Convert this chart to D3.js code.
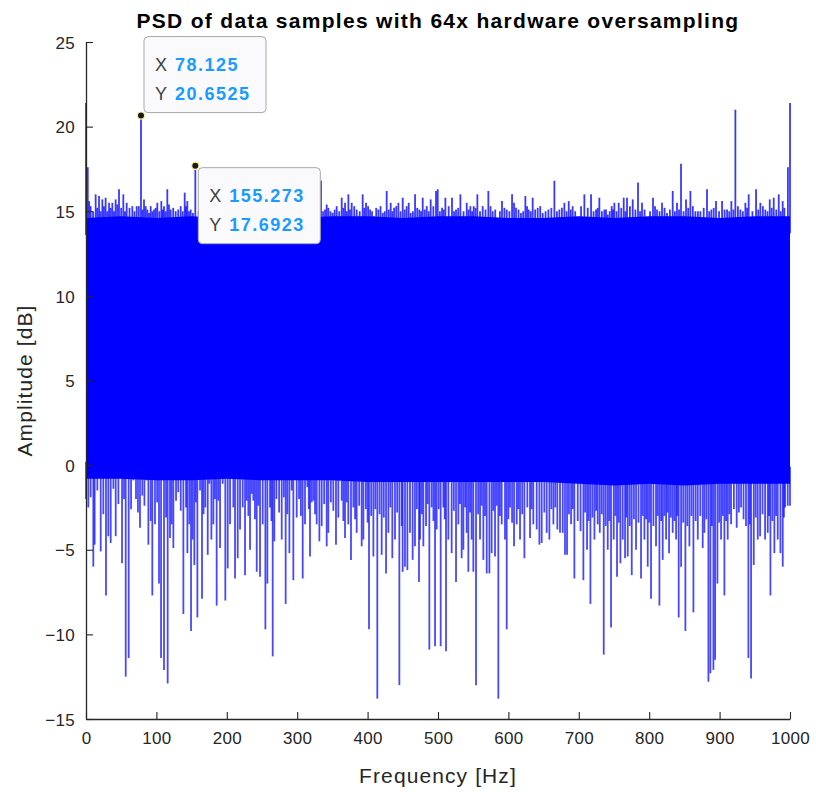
<!DOCTYPE html>
<html><head><meta charset="utf-8">
<script src="https://cdn.jsdelivr.net/npm/d3@7/dist/d3.min.js"></script>
<style>html,body{margin:0;padding:0;background:#fff}svg{display:block}</style>
</head><body>
<svg id="chart" width="816" height="792"></svg>
<script>
// ---------- data ----------
const titleText = "PSD of data samples with 64x hardware oversampling";
const xLabel = "Frequency [Hz]";
const yLabel = "Amplitude [dB]";
const xTicks = [0,100,200,300,400,500,600,700,800,900,1000];
const yTicks = [-15,-10,-5,0,5,10,15,20,25];

// solid core of the noise band (upper / lower edge), every 50 Hz
const coreFreq = [0,50,100,150,200,250,300,350,400,450,500,550,600,650,700,750,800,850,900,950,1000];
const coreHi = [14.6,14.7,14.6,14.7,14.6,14.7,14.6,14.7,14.7,14.6,14.7,14.7,14.6,14.6,14.7,14.6,14.7,14.7,14.6,14.7,14.7];
const coreLo = [-0.8,-0.8,-0.9,-0.9,-0.8,-0.9,-0.9,-0.9,-1.0,-1.0,-1.0,-1.0,-1.0,-1.0,-1.1,-1.2,-1.1,-1.2,-1.1,-1.1,-1.1];

// upward peaks [frequency Hz, amplitude dB]
const upPeaks = [[0,21.4],[2.5,17.6],[4.5,15.6],[6.6,15.3],[10,15.0],[13.7,16.0],[16,15.2],[18.5,15.9],[20.8,15.0],[23.2,15.7],[25.5,15.3],[27.9,15.8],[30.3,15.0],[32.7,15.5],[35,15.2],[37.4,15.5],[39.8,15.0],[42.1,15.7],[44.5,15.4],[46.9,16.3],[50,15.2],[53.0,16.0],[55.4,15.0],[57.8,15.5],[61.8,15.2],[65.8,15.3],[68.9,15.0],[72,15.3],[75,15.3],[78.125,20.6525],[80.2,15.1],[82.4,15.7],[84.8,15.3],[87.1,15.1],[89.5,14.9],[91.9,15.3],[94.2,15.0],[96.6,15.1],[99,15.2],[101.3,15.5],[104.2,15.0],[107,15.6],[108.9,15.1],[110.8,15.3],[113.2,15.0],[115.5,16.3],[117.9,15.4],[120.3,15.1],[123.9,15.2],[127.4,15.0],[131,15.1],[134.5,15.3],[137.4,15.0],[140.2,16.1],[142,15.3],[143.9,15.6],[146.3,15.0],[148.7,15.1],[151.9,14.9],[155.273,17.6923],
[160,15.0],[165,15.4],[172,15.2],[180,15.8],[190,15.0],[200,15.2],[210,15.3],[220,15.6],[232,15.0],[245,15.3],[258,15.1],[270,15.7],[280,15.0],[290,15.2],[300,15.2],[310,15.5],[318,15.0],[325,15.1],
[333.8,16.8],[336.7,15.0],[339.5,15.1],[341.9,15.4],[344.3,15.2],[347.4,15.0],[350.4,14.9],[353.2,15.1],[356.1,15.3],[359.7,15.0],[363.2,15.8],[365.6,15.2],[368,15.5],[370.4,15.0],[372.7,16.0],[375,15.1],[377.4,15.5],[381,15.3],[384.5,15.1],[388.8,15.0],[393,16.0],[395.4,15.2],[397.8,15.5],[400.7,15.3],[403.5,15.1],[406.3,15.0],[409.1,14.7],[412.2,15.2],[415.3,15.1],[418.4,15.3],[421.5,14.9],[424.3,15.0],[427.1,16.2],[430,15.1],[432.8,15.5],[435.2,15.0],[437.6,15.2],[440.7,15.3],[443.7,15.5],[446.8,15.0],[449.9,15.8],[452.7,15.1],[455.5,15.3],[458.4,15.5],[461.2,14.9],[464.3,15.0],[467.4,16.0],[470.5,15.2],[473.5,15.1],[475.9,15.0],[478.3,15.8],[481.2,15.1],[484,15.3],[486.8,15.0],[489.6,15.7],[493.4,15.3],[497.2,16.2],[499.6,16.3],[502.7,15.0],[505.7,15.2],[508.1,15.1],[510.5,15.8],[515.2,15.3],[519.9,15.8],[522.8,15.0],[525.6,15.1],[528.7,15.2],[531.8,16.0],[536.3,15.0],[540.8,15.5],[543.4,15.1],[546,15.3],[548.4,15.0],[550.7,15.3],[553.3,15.2],[555.9,16.0],[559.7,15.0],[563.5,15.3],[567.5,15.1],[571.5,16.2],[574.6,15.3],[577.7,15.0],[581.3,15.1],[584.8,14.6],[587.9,15.0],[590.9,15.6],[594.3,15.2],[597.6,15.1],[601.4,15.0],[605.2,16.0],[608,15.5],[610.8,15.2],[614.4,15.1],[617.9,14.9],[621,15.0],[624.1,15.9],[626.5,15.3],[628.8,15.1],[631.7,15.0],[634.5,15.8],[638,15.1],[641.6,15.2],[645.2,15.3],[648.7,14.9],[652.8,15.0],[656.8,15.1],[661,15.2],[665.3,16.8],[668.9,15.0],[672.4,15.1],[676,15.2],[679.5,15.5],[682.6,15.0],[685.7,15.6],[688.5,15.1],[691.3,15.3],[694.9,15.0],[698.4,14.4],[703.2,15.3],[707.9,16.0],[712.7,15.2],[717.4,16.0],[721,15.0],[724.5,15.1],[726.9,15.2],[729.2,15.8],[732.8,15.0],[736.3,15.1],[738.7,15.1],[741.1,14.8],[743.9,15.0],[746.7,15.3],[748.6,15.1],[750.5,15.5],[753.6,15.0],[756.7,15.5],[760.3,15.2],[763.8,15.8],[766.2,15.0],[768.5,15.8],[772.6,15.3],[776.6,15.7],[780.4,15.1],[784.1,16.7],[787,15.0],[789.8,15.5],[793.4,15.1],[796.9,14.5],[801.2,15.0],[805.4,15.8],[808.3,15.3],[811.1,15.1],[814.7,15.0],[818.2,15.5],[821.8,15.2],[825.3,14.9],[829.4,15.1],[833.4,16.2],[836.5,15.0],[839.5,15.5],[842.4,15.1],[845.2,17.8],[848.8,15.0],[852.3,15.7],[855.4,15.2],[858.5,16.2],[862,15.3],[865.6,15.0],[869.2,15.0],[872.7,15.0],[877.4,15.2],[882.1,16.3],[885.2,15.0],[888.3,15.1],[891.6,15.2],[894.9,15.6],[899.2,15.0],[903.5,15.6],[907.1,15.1],[910.6,15.1],[913.7,15.0],[916.7,15.6],[919.6,15.1],[922.4,21.0],[926,15.3],[929.5,15.1],[933,15.0],[936.6,15.5],[939,15.2],[941.3,16.0],[946.6,15.0],[951.8,16.3],[954.9,15.1],[957.9,15.5],[961.5,15.3],[965,15.1],[968.1,15.0],[971.2,15.7],[974,15.2],[976.9,15.8],[980.5,15.1],[984,16.0],[986.8,15.0],[989.6,15.6],[992,15.2],[997,17.6],[1000,21.4]];

// downward dips [frequency Hz, amplitude dB]
const downPeaks = [[0,-2.0],[3.3,-2.5],[6.6,-1.9],[10.4,-6.0],[12.3,-4.7],[16.1,-1.5],[20.9,-5.1],[24.6,-2.9],[28.4,-7.7],[31.7,-4.2],[35.1,-4.6],[38.9,-1.4],[42.2,-4.2],[46.0,-2.3],[51.2,-5.8],[54.0,-2.0],[56.4,-12.5],[60.6,-11.4],[64,-2.6],[67.3,-0.9],[71.0,-2.0],[73.8,-2.8],[76.7,-3.7],[80,-1.8],[83,-2.4],[86.2,-0.9],[88.6,-4.7],[91.9,-3.3],[94.2,-7.7],[98.0,-3.5],[101,-2.2],[103.7,-7.0],[106.6,-11.4],[110.8,-12.1],[113.7,-3.1],[116.0,-12.9],[119.3,-4.3],[121.7,-3.5],[124.1,-4.9],[127.9,-2.1],[131,-1.6],[134.6,-2.7],[138.3,-8.8],[142.1,-2.5],[144,-5.2],[146.8,-3.5],[149.2,-9.8],[151.5,-4.4],[153.9,-5.9],[156,-2.2],[158.2,-9.0],[162,-1.5],[164.8,-7.9],[167,-2.9],[169.5,-2.5],[172.9,-5.3],[175.2,-1.1],[178.1,-4.4],[180.9,-3.5],[183.2,-2.0],[185.6,-8.3],[188,-2.1],[190.4,-4.9],[194.2,-1.1],[197.9,-8.0],[201.3,-6.1],[204.6,-3.5],[209.3,-2.5],[211.7,-6.7],[215.5,-5.5],[218.8,-3.8],[222.6,-2.5],[225.9,-6.5],[228.3,-2.1],[230.6,-3.0],[233,-5.0],[235.4,-1.7],[237.7,-2.1],[240,-3.2],[242.5,-6.3],[244.8,-2.4],[247.2,-6.6],[251,-3.5],[254.8,-9.7],[257.6,-7.0],[261.4,-2.5],[263.4,-3.3],[265.2,-11.3],[267.5,-4.5],[270.5,-2.0],[274.3,-2.8],[278,-4.4],[281,-1.9],[283.6,-8.2],[286,-2.9],[288.9,-5.2],[292.2,-1.5],[294.5,-6.8],[299.3,-3.1],[302.6,-2.0],[305.2,-3.0],[307.8,-6.7],[311.1,-3.5],[314.4,-1.3],[316.4,-2.6],[318.2,-5.4],[320.6,-2.2],[323,-2.1],[325.3,-2.9],[327.7,-3.5],[331.5,-4.5],[334.8,-3.6],[338.3,-2.3],[341.9,-4.8],[344.2,-4.0],[347.8,-2.2],
[351.3,-2.7],[355.1,-4.7],[358.4,-3.1],[363.2,-2.1],[365.5,-3.3],[367.9,-4.3],[370.3,-2.2],[372.6,-3.5],[376.4,-5.6],[379.8,-2.5],[382.2,-3.2],[384.5,-4.0],[388,-2.4],[391.6,-4.8],[394,-4.4],[397.5,-2.6],[400,-3.4],[402,-9.7],[405.1,-3.0],[408.2,-5.4],[411,-2.6],[413.8,-13.8],[417,-2.9],[420,-5.3],[423,-3.1],[426.2,-6.4],[429.5,-4.0],[432.3,-2.5],[435.1,-5.5],[438.9,-4.4],[442,-2.8],[445.1,-13.0],[448.4,-3.6],[449.8,-6.3],[453.1,-6.0],[456.5,-6.2],[460.2,-4.0],[464,-5.6],[467.3,-4.8],[470,-2.6],[473,-6.9],[474.5,-4.4],[477,-2.9],[479.2,-4.8],[483,-3.6],[485.3,-2.3],[487.7,-10.9],[491,-2.5],[493.5,-3.3],[495.8,-10.7],[498.1,-3.8],[501,-2.6],[503.8,-10.7],[507.6,-2.5],[509.5,-3.2],[511.4,-11.0],[514.7,-4.4],[519.4,-5.2],[522.5,-2.7],[525.6,-6.9],[528.9,-3.5],[531.2,-2.3],[533.6,-5.5],[536,-5.0],[538.5,-2.5],[540.7,-4.0],[543.1,-6.3],[545.5,-2.8],[547.8,-4.4],[550.2,-6.3],[554,-13.0],[557,-2.9],[559.7,-4.4],[562,-2.4],[564.4,-5.6],[566.8,-3.0],[569.2,-6.4],[573,-6.4],[576.2,-5.2],[578.6,-2.7],[581,-5.4],[583.4,-2.4],[585.7,-13.8],[588,-3.0],[590.5,-3.5],[595.2,-4.4],[597.6,-9.7],[600,-3.2],[602.3,-2.5],[605.2,-3.4],[608,-4.8],[611.8,-3.5],[614,-2.6],[616.5,-4.4],[619.6,-2.9],[622.7,-5.5],[626.9,-2.5],[630.7,-4.3],[633,-2.6],[635.4,-3.5],[640.2,-3.8],[644,-4.7],[647.3,-4.6],[651,-2.8],[654.4,-4.0],[658.2,-4.4],[661,-2.6],[663.9,-3.5],[666.6,-2.5],[669.5,-3.8],[673.3,-4.0],[677.2,-4.0],[680.4,-5.3],
[683.3,-5.3],[686,-2.9],[689,-3.5],[691.4,-2.6],[693.7,-6.7],[698.5,-3.3],[702.5,-3.9],[706.5,-6.8],[709,-2.8],[711.7,-5.0],[714,-3.3],[716.5,-8.2],[719.4,-3.1],[722.2,-4.4],[724.6,-2.7],[726.9,-3.5],[729.8,-4.0],[732.6,-2.9],[735.4,-11.2],[738.2,-3.6],[741.1,-5.0],[743.4,-3.3],[745.8,-9.6],[749.6,-4.4],[752,-3.0],[754.3,-6.6],[756.7,-3.4],[759.1,-5.8],[762.4,-4.4],[765.7,-5.5],[767.6,-3.1],[769.5,-5.4],[772.4,-3.6],[775.2,-6.5],[778.3,-3.2],[781.3,-5.0],[784.8,-3.4],[788.4,-6.7],[790.8,-3.0],[793.2,-4.4],[795.6,-3.2],[797.9,-6.0],[800.2,-3.4],[802.6,-7.9],[806,-3.6],[809.7,-4.8],[812.1,-3.0],[814.5,-8.3],[817,-3.3],[819.2,-5.6],[821.6,-3.0],[824,-4.4],[826,-2.8],[828.2,-5.2],[830.8,-3.1],[833.4,-4.0],[835.8,-3.3],[838.2,-4.4],[840,-3.0],[841.9,-9.0],[845.3,-6.0],[848.3,-3.4],[851.4,-9.8],[854.2,-3.6],[857.1,-4.8],[860,-3.0],[862.8,-8.7],[866,-3.3],[869,-4.4],[872.5,-3.0],[876,-4.9],[878.4,-4.0],[881.2,-3.2],[884.1,-12.8],[886.9,-12.3],[889,-3.6],[891.2,-12.1],[893.6,-11.5],[896.9,-7.0],[899.5,-3.4],[902.1,-4.4],[904.5,-3.0],[906.8,-7.7],[909.2,-3.3],[911.5,-4.4],[913.9,-2.9],[916.3,-3.5],[920.3,-2.6],[924.3,-3.7],[927.4,-2.8],[930.5,-2.5],[934,-3.2],[937.5,-3.6],[940.9,-11.4],[942.8,-3.5],[944.7,-12.6],[948.5,-5.9],[951.3,-3.1],[954.2,-4.4],[957.5,-4.2],[961,-2.9],[964.6,-4.4],[968.4,-4.0],[970.3,-3.0],[972.2,-7.7],[975,-3.3],[977.8,-5.2],[980.2,-3.0],[982.6,-4.4],[986.4,-5.2],[989.7,-6.0],[991.4,-3.1],[993,-2.5],[996.8,-2.4],[1000,-2.4]];

const dataTips = [
  {x:78.125, y:20.6525, xs:"78.125", ys:"20.6525", place:"above"},
  {x:155.273, y:17.6923, xs:"155.273", ys:"17.6923", place:"below"}
];

// ---------- drawing ----------
const M = {left:86, right:790, top:42, bottom:719};
const svg = d3.select("#chart");
const FONT = "'Liberation Sans', Arial, Helvetica, sans-serif";
const AXC = "#262626";

const x = d3.scaleLinear().domain([0,1000]).range([M.left, M.right]);
const y = d3.scaleLinear().domain([-15,25]).range([M.bottom, M.top]);

const plot = svg.append("g");
const blue = "#0000ff";

// core band
const core = coreFreq.map((f,i)=>({f, hi:coreHi[i], lo:coreLo[i]}));
plot.append("path").datum(core)
  .attr("fill", blue).attr("stroke", "none")
  .attr("d", d3.area().x(d=>x(d.f)).y0(d=>y(d.lo)).y1(d=>y(d.hi)));

const hiAt = d3.scaleLinear().domain(coreFreq).range(coreHi);
const loAt = d3.scaleLinear().domain(coreFreq).range(coreLo);

plot.append("g").selectAll("line").data(upPeaks).join("line")
  .attr("x1", d=>x(d[0])).attr("x2", d=>x(d[0]))
  .attr("y1", d=>y(hiAt(d[0]) - 1)).attr("y2", d=>y(d[1]))
  .attr("stroke", blue).attr("stroke-width", 1.8).attr("stroke-opacity", 0.78);

plot.append("g").selectAll("line").data(downPeaks).join("line")
  .attr("x1", d=>x(d[0])).attr("x2", d=>x(d[0]))
  .attr("y1", d=>y(loAt(d[0]) + 1)).attr("y2", d=>y(d[1]))
  .attr("stroke", blue).attr("stroke-width", 1.8).attr("stroke-opacity", 0.72);

// axes
const xAxis = d3.axisBottom(x).tickValues(xTicks).tickSizeInner(-7).tickSizeOuter(0).tickPadding(13).tickFormat(d3.format("d"));
const yAxis = d3.axisLeft(y).tickValues(yTicks).tickSizeInner(-7).tickSizeOuter(0).tickPadding(11).tickFormat(d3.format("d"));

const gx = svg.append("g").attr("transform", `translate(0,${M.bottom})`).call(xAxis);
const gy = svg.append("g").attr("transform", `translate(${M.left},0)`).call(yAxis);
[gx, gy].forEach(g=>{
  g.select(".domain").attr("stroke", AXC).attr("stroke-width", 1.3);
  g.selectAll(".tick line").attr("stroke", AXC).attr("stroke-width", 1.1);
  g.selectAll(".tick text").attr("fill", AXC).style("font-family", FONT).style("font-size", "17px").style("letter-spacing", "0.3px");
});
gx.selectAll(".tick text").attr("dy", "0.71em");
gy.selectAll(".tick text").attr("dy", "0.36em");

// labels
svg.append("text").attr("x", (M.left+M.right)/2).attr("y", 28)
  .attr("text-anchor", "middle").style("font-family", FONT).style("font-weight", "bold")
  .style("font-size", "21px").style("letter-spacing", "1.3px").attr("fill", "#000").text(titleText);

svg.append("text").attr("x", (M.left+M.right)/2).attr("y", 783)
  .attr("text-anchor", "middle").style("font-family", FONT)
  .style("font-size", "21px").style("letter-spacing", "1.1px").attr("fill", AXC).text(xLabel);

svg.append("text").attr("transform", `translate(32,${(M.top+M.bottom)/2}) rotate(-90)`)
  .attr("text-anchor", "middle").style("font-family", FONT)
  .style("font-size", "21px").style("letter-spacing", "1.1px").attr("fill", AXC).text(yLabel);

// data tips
const tipW = 122, tipH = 76;
dataTips.forEach(t=>{
  const mx = x(t.x), my = y(t.y);
  const bx = mx + 3;
  const by = t.place === "above" ? my - 3 - tipH : my + 2;
  const g = svg.append("g");
  g.append("rect").attr("x", bx).attr("y", by).attr("width", tipW).attr("height", tipH)
    .attr("rx", 4).attr("fill", "#fafafd").attr("stroke", "#a8a8a8").attr("stroke-width", 1);
  const rows = [["X", t.xs], ["Y", t.ys]];
  rows.forEach((r,i)=>{
    const ty = by + 34 + i*29;
    g.append("text").attr("x", bx+11).attr("y", ty).style("font-family", FONT)
      .style("font-size", "18px").attr("fill", "#404040").text(r[0]);
    g.append("text").attr("x", bx+31).attr("y", ty).style("font-family", FONT)
      .style("font-size", "18px").style("font-weight", "bold").style("letter-spacing", "1.5px")
      .attr("fill", "#1a9cff").text(r[1]);
  });
  svg.append("circle").attr("cx", mx).attr("cy", my).attr("r", 3.6)
    .attr("fill", "#1a1a1a").attr("stroke", "#f4f0a0").attr("stroke-width", 1.2);
});
</script>
</body></html>
